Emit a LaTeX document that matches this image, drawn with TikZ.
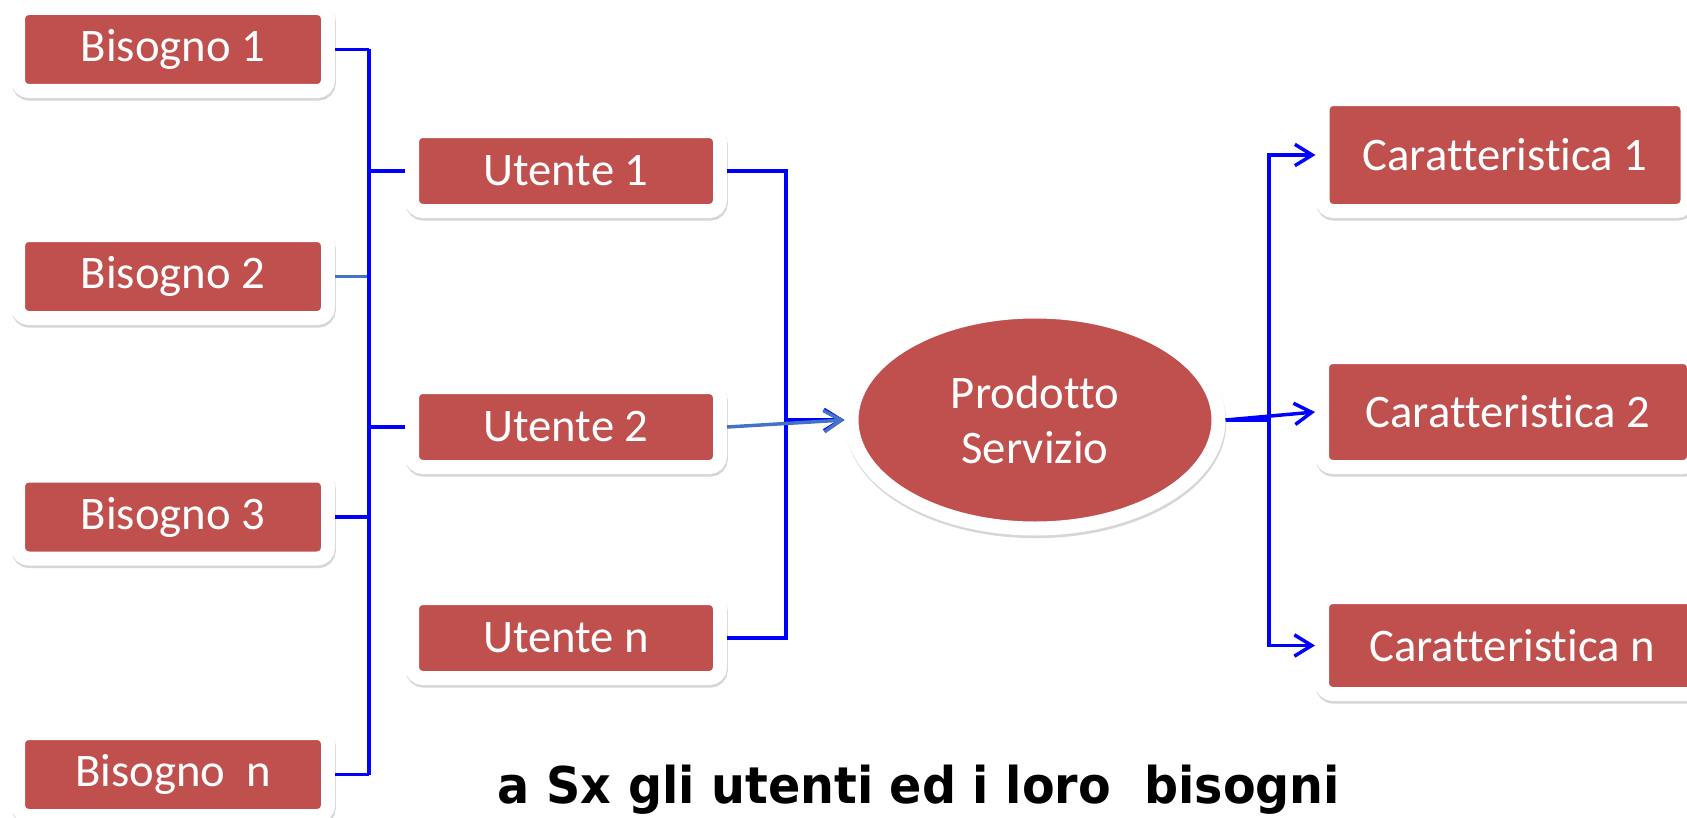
\documentclass[tikz,border=0pt]{standalone}
\usepackage{fontspec}
\setmainfont{Carlito}[Ligatures=NoCommon]
\newfontfamily\captionfont{DejaVu Sans}[FakeStretch=0.94]
\usetikzlibrary{shapes.geometric,arrows.meta}
\definecolor{boxred}{RGB}{192,80,77}
\definecolor{linkblue}{RGB}{0,0,255}
\definecolor{steelblue}{RGB}{68,114,196}

\begin{document}
\begin{tikzpicture}[x=0.75pt,y=-0.75pt,
  box/.style={rectangle, rounded corners=8pt, fill=boxred, draw=white, line width=10.5pt, text=white, inner sep=0pt, align=center, font=\fontsize{35}{41}\selectfont, preaction={draw=black!16, line width=10.5pt, transform canvas={shift={(0.6pt,-2pt)}}}},
  oval/.style={box, ellipse, rounded corners=0pt, minimum width=275.25pt, minimum height=162.75pt},
  need/.style={box, minimum width=232.5pt, minimum height=62.25pt},
  user/.style={box, minimum width=231pt, minimum height=60pt},
  link/.style={draw=linkblue, line width=2.6pt},
  tip/.style={-{Straight Barb[length=13pt,width=16pt]}}]
\useasboundingbox (0,0) rectangle (1687,817);

\node[need] (b1) at (173,49.5) {Bisogno 1};
\node[need] (b2) at (173,276.5) {Bisogno 2};
\node[need] (b3) at (173,517) {Bisogno 3};
\node[need] (bn) at (173,774.5) {Bisogno\ \ n};

\node[user] (u1) at (566,171) {Utente 1};
\node[user] (u2) at (566,427) {Utente 2};
\node[user] (un) at (566,638) {Utente n};

\node[oval] (ps) at (1035,420) {Prodotto\\Servizio};

\node[box, minimum width=273.75pt, minimum height=84pt] (c1) at (1505,155) {Caratteristica 1};
\node[box, minimum width=279pt, minimum height=82.5pt] (c2) at (1508,412) {Caratteristica 2};
\node[box, minimum width=285pt, minimum height=72.75pt] (cn) at (1512,645.5) {Caratteristica n};

\coordinate (busl) at (369,0);
\coordinate (busm) at (786,0);
\coordinate (busr) at (1269,0);

\foreach \n/\c in {b1/linkblue,b2/steelblue,b3/linkblue,bn/linkblue}
  \draw[link, draw=\c] (\n.east) -- (\n.east -| busl);
\draw[link] (b1.east -| busl) -- (bn.east -| busl);
\draw[link] (u1.west -| busl) -- (u1.west);
\draw[link] (u2.west -| busl) -- (u2.west);

\draw[link] (u1.east) -| (un.east -| busm) -- (un.east);
\draw[link, tip] (ps.west -| busm) -- (ps.west);
\draw[link, draw=steelblue, tip] (u2.east) -- (ps.west);

\draw[link] (ps.east) -- (ps.east -| busr);
\draw[link, tip] (ps.east -| busr) |- (c1.west);
\draw[link, tip] (ps.east -| busr) |- (cn.west);
\draw[link, tip] (ps.east) -- (c2.west);

\node[anchor=base west, font=\captionfont\bfseries\fontsize{38}{44}\selectfont] (note) at (493,803) {a Sx gli utenti ed i loro\ \ bisogni};
\end{tikzpicture}
\end{document}
